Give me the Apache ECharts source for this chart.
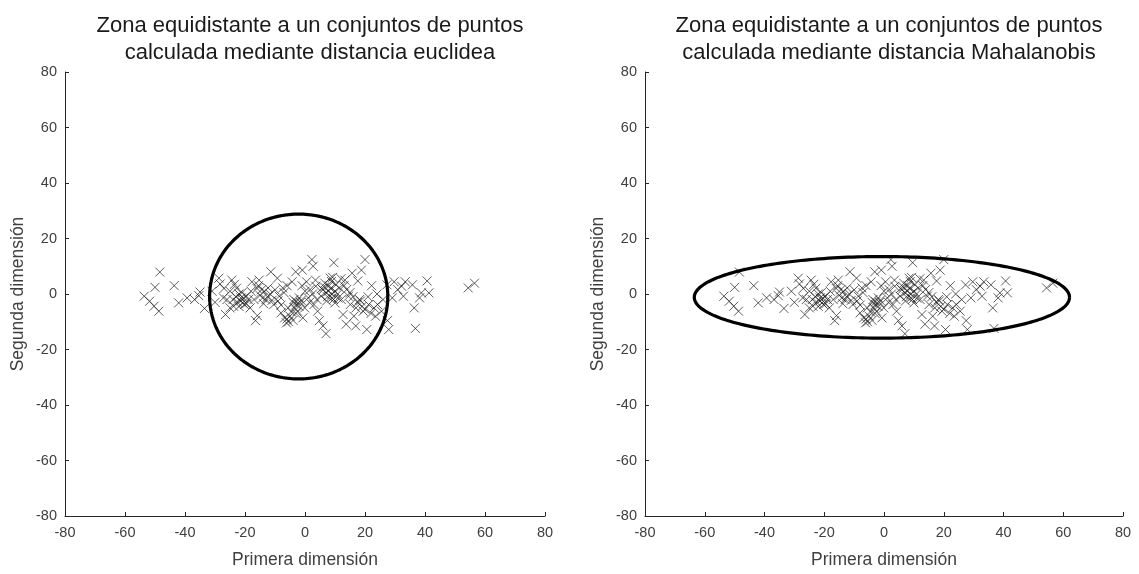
<!DOCTYPE html>
<html>
<head>
<meta charset="utf-8">
<script src="https://cdn.jsdelivr.net/npm/echarts@6/dist/echarts.min.js"></script>
<style>
html,body{margin:0;padding:0;background:#fff;}
#chart{width:1139px;height:574px;}
</style>
</head>
<body>
<div id="chart"></div>
<script>
// Sample points (first and second dimension)
var pointsX = [
  -53.6,-51.8,-50.3,-48.7,-50.0,-48.4,-43.6,-42.1,-39.3,-36.8,-35.0,-35.4,-33.5,
  -28.7,-28.3,-27.2,-26.5,-24.4,-23.8,-22.8,-22.0,-21.4,-20.8,-20.2,-19.5,-18.9,
  -18.3,-17.7,-16.5,-15.9,-15.3,-14.1,-13.5,-12.3,-11.6,-11.4,-11.0,-10.4,-9.2,
  -8.6,-8.0,-7.4,-6.8,-6.2,-5.6,-4.3,-3.7,-3.1,-2.9,-2.5,-1.9,-1.3,-0.9,-0.7,
  -0.1,0.5,1.1,1.7,2.3,2.7,3.0,3.6,4.2,4.8,5.4,6.0,7.0,6.6,7.8,8.4,9.0,9.6,10.0,
  10.3,10.9,11.5,12.1,12.7,13.3,13.7,13.9,14.5,15.1,15.7,16.3,16.9,17.6,18.2,
  18.8,19.4,20.0,20.6,21.2,22.2,23.0,24.2,25.5,27.3,27.5,27.9,29.1,29.7,30.9,
  32.2,32.8,33.4,35.8,36.4,36.8,38.2,38.8,40.7,41.3,56.5,54.4,
  -23.0,-21.5,-22.5,-20.5,-21.0,-24.0,-19.5,-22.0,-25.0,-23.5,
  -15.0,-13.0,-14.5,-12.5,-16.0,-13.8,-15.5,
  -4.0,-3.5,-2.0,-4.5,-3.0,-5.0,-1.5,-2.8,-6.0,-4.0,-5.5,
  7.0,8.5,9.0,7.5,8.0,10.0,9.5,6.5,8.8,7.2,11.0,9.2,6.0,
  17.5,19.0,18.5,20.0,17.0,22.0,23.5,21.0,
  -30.0,-31.0,-26.0,-27.0,-25.0,-18.0,-17.0,-10.0,-9.0,-7.0,-6.0,0.0,1.5,2.5,
  4.0,3.5,5.5,-1.0,13.0,15.0,16.0,12.0,24.0,26.0,-8.0
];
var pointsY = [
  -0.8,-2.6,-4.4,-6.2,2.4,7.9,3.0,-3.2,-1.4,-2.0,0.7,-0.6,-5.2,
  5.7,3.6,-1.4,-7.4,5.0,-4.4,2.1,0.0,-1.4,-3.2,-3.8,-0.8,-2.0,
  -5.0,4.4,-9.6,-7.8,5.0,-1.4,1.0,2.2,0.0,8.0,-2.3,-3.8,5.7,
  -0.8,-6.8,2.2,-8.6,-10.4,-5.0,4.4,-2.0,8.0,-3.8,-6.2,-1.4,-2.3,8.6,-8.6,
  -5.0,4.4,-1.4,1.6,12.4,10.0,-3.8,2.8,-6.2,-9.6,-0.8,-11.5,-14.3,3.9,1.0,5.7,-1.4,11.3,-3.2,
  3.3,0.0,2.2,-2.0,-7.4,5.0,-10.9,1.6,-0.8,-3.8,7.5,-8.0,-11.5,4.7,-2.0,
  8.6,-6.2,12.4,-12.8,-3.8,3.0,-5.0,-3.8,-6.2,3.3,-9.6,-12.8,-1.4,4.4,1.6,
  2.8,-0.8,4.4,3.3,-5.0,-12.4,-1.4,0.4,4.7,0.4,3.9,2.2,
  -1.0,-2.5,-3.0,-1.5,0.5,-2.0,-3.5,-4.5,1.0,3.5,
  -0.5,-2.0,1.5,-1.0,2.0,-3.5,3.0,
  -3.0,-5.0,-4.5,-6.5,-7.0,-8.0,-3.0,-2.8,-9.0,-9.5,-10.0,
  0.5,2.0,0.0,-1.0,3.0,1.0,-2.0,2.5,4.5,-2.5,-1.5,6.0,1.5,
  -3.0,-4.5,-2.5,-5.5,-5.0,-7.0,-8.0,-1.0,
  -3.0,1.0,-2.0,2.0,-5.0,1.0,-2.0,1.5,-2.5,0.5,3.0,1.0,-3.0,0.0,
  -2.0,5.0,2.0,3.0,3.0,0.5,-1.0,5.5,0.0,-2.0,-4.0
];

// Equidistant zones: [centreX, centreY, radiusX, radiusY]
var euclideanZone = [-2.1, -0.9, 29.7, 29.7];
var mahalanobisZone = [-0.7, -1.2, 62.8, 14.7];

var axisMin = -80, axisMax = 80, axisStep = 20;

var titleLines = [
  'Zona equidistante a un conjuntos de puntos\ncalculada mediante distancia euclidea',
  'Zona equidistante a un conjuntos de puntos\ncalculada mediante distancia Mahalanobis'
];
var xName = 'Primera dimensión';
var yName = 'Segunda dimensión';

var FONT = '"Liberation Sans", Arial, Helvetica, sans-serif';
var AXIS_COLOR = '#262626';
var LABEL_COLOR = '#404040';

var pts = pointsX.map(function (x, i) { return [x, pointsY[i]]; });

function makeX(gridIndex) {
  return {
    gridIndex: gridIndex, type: 'value', min: axisMin, max: axisMax, interval: axisStep,
    name: xName, nameLocation: 'middle', nameGap: 35,
    nameTextStyle: { color: LABEL_COLOR, fontSize: 17.5, fontFamily: FONT },
    axisLine: { show: true, onZero: false, lineStyle: { color: AXIS_COLOR, width: 1 } },
    axisTick: { show: true, inside: true, length: 4, lineStyle: { color: AXIS_COLOR } },
    axisLabel: { color: LABEL_COLOR, fontSize: 14.5, fontFamily: FONT, margin: 9 },
    splitLine: { show: false }
  };
}
function makeY(gridIndex) {
  return {
    gridIndex: gridIndex, type: 'value', min: axisMin, max: axisMax, interval: axisStep,
    name: yName, nameLocation: 'middle', nameGap: 38, nameRotate: 90,
    nameTextStyle: { color: LABEL_COLOR, fontSize: 17.5, fontFamily: FONT },
    axisLine: { show: true, onZero: false, lineStyle: { color: AXIS_COLOR, width: 1 } },
    axisTick: { show: true, inside: true, length: 4, lineStyle: { color: AXIS_COLOR } },
    axisLabel: { color: LABEL_COLOR, fontSize: 14.5, fontFamily: FONT, margin: 8 },
    splitLine: { show: false }
  };
}

var crossSymbol = 'path://M0,0L10,10M10,0L0,10';

function scatterSeries(idx) {
  return {
    type: 'scatter', xAxisIndex: idx, yAxisIndex: idx, data: pts,
    symbol: crossSymbol, symbolSize: 9, silent: true,
    itemStyle: { color: 'rgba(0,0,0,0)', borderColor: '#1e1e1e', borderWidth: 0.9 }
  };
}

function zoneSeries(idx, zone) {
  return {
    type: 'custom', xAxisIndex: idx, yAxisIndex: idx, silent: true,
    data: [zone], encode: { x: 0, y: 1 }, z: 5,
    renderItem: function (params, api) {
      var cx = api.value(0), cy = api.value(1), rx = api.value(2), ry = api.value(3);
      var outline = [];
      var n = 240;
      for (var i = 0; i <= n; i++) {
        var t = i / n * Math.PI * 2;
        outline.push(api.coord([cx + rx * Math.cos(t), cy + ry * Math.sin(t)]));
      }
      return {
        type: 'polyline', shape: { points: outline },
        style: { fill: null, stroke: '#000', lineWidth: 3.2 }
      };
    }
  };
}

var chart = echarts.init(document.getElementById('chart'), null, { renderer: 'canvas' });
chart.setOption({
  backgroundColor: '#fff',
  animation: false,
  textStyle: { fontFamily: FONT },
  title: [
    { text: titleLines[0], left: 305, top: 7, textAlign: 'center',
      textStyle: { fontSize: 22, fontWeight: 'normal', color: '#1a1a1a', fontFamily: FONT, lineHeight: 27 } },
    { text: titleLines[1], left: 884, top: 7, textAlign: 'center',
      textStyle: { fontSize: 22, fontWeight: 'normal', color: '#1a1a1a', fontFamily: FONT, lineHeight: 27 } }
  ],
  grid: [
    { left: 65, top: 72, width: 480, height: 451 },
    { left: 645, top: 72, width: 478, height: 451 }
  ],
  xAxis: [makeX(0), makeX(1)],
  yAxis: [makeY(0), makeY(1)],
  series: [
    scatterSeries(0), zoneSeries(0, euclideanZone),
    scatterSeries(1), zoneSeries(1, mahalanobisZone)
  ]
});
</script>
</body>
</html>
